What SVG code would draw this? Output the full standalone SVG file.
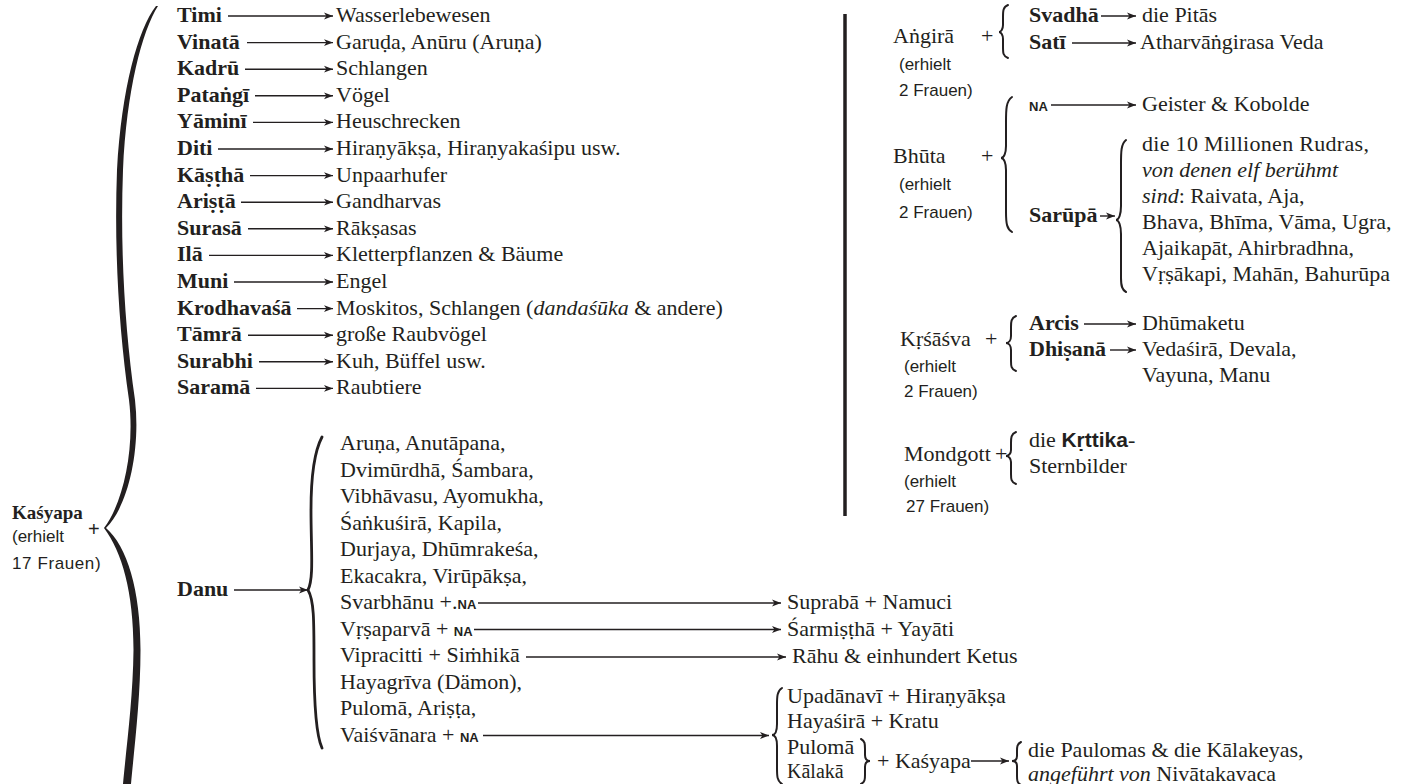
<svg xmlns="http://www.w3.org/2000/svg" width="1415" height="784" viewBox="0 0 1415 784">
<style>
text { font-family: "Liberation Serif", "Times New Roman", "DejaVu Serif", serif; font-size: 22px; fill: #231f20; }
.b { font-weight: bold; }
.i { font-style: italic; }
.s { font-family: "Liberation Sans", "DejaVu Sans", sans-serif; font-size: 17px; }
.na { font-family: "Liberation Sans", "DejaVu Sans", sans-serif; font-size: 13px; font-weight: bold; }
.kb { font-family: "Liberation Sans", "DejaVu Sans", sans-serif; font-weight: bold; font-size: 21px; }
.ar { stroke: #231f20; stroke-width: 1.4; fill: none; marker-end: url(#ah); }
.br { fill: none; stroke: #231f20; stroke-width: 2; stroke-linecap: round; }
</style>
<defs>
<marker id="ah" markerUnits="userSpaceOnUse" markerWidth="10" markerHeight="8" refX="9" refY="4" orient="auto">
<path d="M0,0.6 L9,4 L0,7.4 L2.4,4 Z" fill="#231f20"/>
</marker>
</defs>
<rect width="1415" height="784" fill="#ffffff"/>

<g id="kasyapa">
<path d="M158,6 C142,31 126.5,91 123,170 C120,250 125,330 135,400 C141,452 127,508 106,528 C127,546 140.5,590 140.5,650 C140.5,700 134,750 131,784 L123,784 C126,750 133,700 133.5,650 C133.5,592 122,552 104,528 C123,503 135,450 129,400 C119,330 114,250 117,170 C121.5,89 138,29 156,6 Z" fill="#231f20"/>
<text class="b" x="12" y="519" style="font-size:19px">Kaśyapa</text>
<text class="s" x="12" y="542">(erhielt</text>
<text class="s" x="12" y="569" style="letter-spacing:0.6px">17 Frauen)</text>
<text class="s" x="88" y="536" style="font-size:20px">+</text>
</g>

<g id="wives">
<text class="b" x="177" y="22">Timi</text>
<text class="b" x="177" y="48.6">Vinatā</text>
<text class="b" x="177" y="75.2">Kadrū</text>
<text class="b" x="177" y="101.8">Pataṅgī</text>
<text class="b" x="177" y="128.4">Yāminī</text>
<text class="b" x="177" y="155">Diti</text>
<text class="b" x="177" y="181.6">Kāṣṭhā</text>
<text class="b" x="177" y="208.2">Ariṣṭā</text>
<text class="b" x="177" y="234.8">Surasā</text>
<text class="b" x="177" y="261.4">Ilā</text>
<text class="b" x="177" y="288">Muni</text>
<text class="b" x="177" y="314.6">Krodhavaśā</text>
<text class="b" x="177" y="341.2">Tāmrā</text>
<text class="b" x="177" y="367.8">Surabhi</text>
<text class="b" x="177" y="394.4">Saramā</text>
</g>

<g id="offspring">
<text x="336" y="22">Wasserlebewesen</text>
<text x="336" y="48.6">Garuḍa, Anūru (Aruṇa)</text>
<text x="336" y="75.2">Schlangen</text>
<text x="336" y="101.8">Vögel</text>
<text x="336" y="128.4">Heuschrecken</text>
<text x="336" y="155">Hiraṇyākṣa, Hiraṇyakaśipu usw.</text>
<text x="336" y="181.6">Unpaarhufer</text>
<text x="336" y="208.2">Gandharvas</text>
<text x="336" y="234.8">Rākṣasas</text>
<text x="336" y="261.4">Kletterpflanzen &amp; Bäume</text>
<text x="336" y="288">Engel</text>
<text x="336" y="314.6">Moskitos, Schlangen (<tspan class="i">dandaśūka</tspan> &amp; andere)</text>
<text x="336" y="341.2">große Raubvögel</text>
<text x="336" y="367.8">Kuh, Büffel usw.</text>
<text x="336" y="394.4">Raubtiere</text>
</g>

<g id="danu">
<text class="b" x="177" y="596">Danu</text>
<path class="br" d="M322,437 C314,452 311,475 311,510 C311,550 314,578 308,590 C314,600 314,620 314,660 C314,705 316,735 322,748" style="stroke-width:2.8"/>
<text x="340" y="450">Aruṇa, Anutāpana,</text>
<text x="340" y="476.5">Dvimūrdhā, Śambara,</text>
<text x="340" y="503">Vibhāvasu, Ayomukha,</text>
<text x="340" y="529.5">Śaṅkuśirā, Kapila,</text>
<text x="340" y="556">Durjaya, Dhūmrakeśa,</text>
<text x="340" y="582.5">Ekacakra, Virūpākṣa,</text>
<text x="340" y="609">Svarbhānu +.<tspan class="na">NA</tspan></text>
<text x="340" y="635.5">Vṛṣaparvā + <tspan class="na">NA</tspan></text>
<text x="340" y="662">Vipracitti + Siṁhikā</text>
<text x="340" y="688.5">Hayagrīva (Dämon),</text>
<text x="340" y="715">Pulomā, Ariṣṭa,</text>
<text x="340" y="741.5">Vaiśvānara + <tspan class="na">NA</tspan></text>
</g>

<g id="danu-offspring">
<text x="787" y="609">Suprabā + Namuci</text>
<text x="787" y="635.5">Śarmiṣṭhā + Yayāti</text>
<text x="792" y="663">Rāhu &amp; einhundert Ketus</text>
<path class="br" d="M782,688 C777,691 777,697 777,705 L777,724 C777,731 775,735 772,735 C775,735 777,739 777,746 L777,768 C777,776 777,781 782,784"/>
<text x="787" y="703">Upadānavī + Hiraṇyākṣa</text>
<text x="787" y="728">Hayaśirā + Kratu</text>
<text x="787" y="754">Pulomā</text>
<text x="787" y="778" style="font-size:20px">Kālakā</text>
<path class="br" d="M861,739 C865,741 865,744 865,749 L865,755 C865,759 867,761 870,761 C867,761 865,763 865,767 L865,775 C865,779 865,782 861,784"/>
<text x="877" y="768">+ Kaśyapa</text>
<path class="br" d="M1021,742 C1017,744 1017,747 1017,751 L1017,756 C1017,759 1015,761 1012,761 C1015,761 1017,763 1017,766 L1017,776 C1017,780 1017,783 1021,785"/>
<text x="1028" y="757">die Paulomas &amp; die Kālakeyas,</text>
<text x="1028" y="781"><tspan class="i">angeführt von</tspan> Nivātakavaca</text>
</g>

<g id="right-divider">
<line x1="845" y1="14" x2="845" y2="516" stroke="#231f20" stroke-width="3.5"/>
</g>

<g id="angira">
<text x="893" y="43">Aṅgirā</text>
<text x="981" y="43">+</text>
<text class="s" x="899" y="70">(erhielt</text>
<text class="s" x="899" y="96">2 Frauen)</text>
<path class="br" d="M1008,5 C1003,7 1003,11 1003,17 L1003,25 C1003,29 1001,32 999,32 C1001,32 1003,35 1003,39 L1003,47 C1003,53 1003,56 1008,58"/>
<text class="b" x="1029" y="22">Svadhā</text>
<text x="1142" y="22">die Pitās</text>
<text class="b" x="1029" y="49">Satī</text>
<text x="1140" y="49">Atharvāṅgirasa Veda</text>
</g>

<g id="bhuta">
<text x="893" y="163">Bhūta</text>
<text x="981" y="163">+</text>
<text class="s" x="899" y="190">(erhielt</text>
<text class="s" x="899" y="218">2 Frauen)</text>
<path class="br" d="M1012,97 C1006,101 1006,110 1006,122 L1006,146 C1006,153 1004,158 1001,158 C1004,158 1006,163 1006,170 L1006,212 C1006,224 1007,229 1012,232"/>
<text class="na" x="1029" y="111">NA</text>
<text x="1142" y="111">Geister &amp; Kobolde</text>
<text class="b" x="1029" y="222">Sarūpā</text>
<path class="br" d="M1126,140 C1121,144 1121,152 1121,164 L1121,206 C1121,214 1119,220 1116,220 C1119,220 1121,226 1121,234 L1121,278 C1121,286 1122,290 1126,292"/>
<text x="1142" y="151" style="letter-spacing:0.3px">die 10 Millionen Rudras,</text>
<text class="i" x="1142" y="177">von denen elf berühmt</text>
<text x="1142" y="203"><tspan class="i">sind</tspan>: Raivata, Aja,</text>
<text x="1142" y="229">Bhava, Bhīma, Vāma, Ugra,</text>
<text x="1142" y="255">Ajaikapāt, Ahirbradhna,</text>
<text x="1142" y="281">Vṛṣākapi, Mahān, Bahurūpa</text>
</g>

<g id="krsasva">
<text x="900" y="346">Kṛśāśva</text>
<text x="985" y="346">+</text>
<text class="s" x="904" y="372">(erhielt</text>
<text class="s" x="904" y="397">2 Frauen)</text>
<path class="br" d="M1016,316 C1011,318 1011,322 1011,327 L1011,336 C1011,340 1009,343 1006,343 C1009,343 1011,346 1011,350 L1011,361 C1011,366 1011,369 1016,371"/>
<text class="b" x="1029" y="330">Arcis</text>
<text x="1142" y="330">Dhūmaketu</text>
<text class="b" x="1029" y="356">Dhiṣanā</text>
<text x="1142" y="356">Vedaśirā, Devala,</text>
<text x="1142" y="382">Vayuna, Manu</text>
</g>

<g id="mondgott">
<text x="904" y="461">Mondgott</text>
<text x="995" y="461">+</text>
<text class="s" x="904" y="487">(erhielt</text>
<text class="s" x="906" y="512">27 Frauen)</text>
<path class="br" d="M1016,432 C1011,434 1011,438 1011,443 L1011,450 C1011,453 1009,456 1006,456 C1009,456 1011,459 1011,462 L1011,474 C1011,479 1011,482 1016,484"/>
<text x="1029" y="447">die <tspan class="kb">Kṛttika</tspan>-</text>
<text x="1029" y="473">Sternbilder</text>
</g>

<g id="connectors">
<line class="ar" x1="228" y1="16" x2="333" y2="16"/>
<line class="ar" x1="247" y1="42.6" x2="333" y2="42.6"/>
<line class="ar" x1="245" y1="69.2" x2="333" y2="69.2"/>
<line class="ar" x1="255" y1="95.8" x2="333" y2="95.8"/>
<line class="ar" x1="253" y1="122.4" x2="333" y2="122.4"/>
<line class="ar" x1="218" y1="149" x2="333" y2="149"/>
<line class="ar" x1="250" y1="175.6" x2="333" y2="175.6"/>
<line class="ar" x1="241" y1="202.2" x2="333" y2="202.2"/>
<line class="ar" x1="248" y1="228.8" x2="333" y2="228.8"/>
<line class="ar" x1="209" y1="255.4" x2="333" y2="255.4"/>
<line class="ar" x1="234" y1="282" x2="333" y2="282"/>
<line class="ar" x1="297" y1="308.6" x2="333" y2="308.6"/>
<line class="ar" x1="248" y1="335.2" x2="333" y2="335.2"/>
<line class="ar" x1="259" y1="361.8" x2="333" y2="361.8"/>
<line class="ar" x1="256" y1="388.4" x2="333" y2="388.4"/>
<line class="ar" x1="234" y1="590" x2="308" y2="590"/>
<line class="ar" x1="478" y1="603" x2="781" y2="603"/>
<line class="ar" x1="474" y1="629.5" x2="781" y2="629.5"/>
<line class="ar" x1="526" y1="657" x2="786" y2="657"/>
<line class="ar" x1="483" y1="735.5" x2="769" y2="735.5"/>
<line class="ar" x1="971" y1="761" x2="1009" y2="761"/>
<line class="ar" x1="1101" y1="16" x2="1136" y2="16"/>
<line class="ar" x1="1072" y1="43" x2="1136" y2="43"/>
<line class="ar" x1="1051" y1="105" x2="1136" y2="105"/>
<line class="ar" x1="1100" y1="216" x2="1115" y2="216"/>
<line class="ar" x1="1084" y1="324" x2="1136" y2="324"/>
<line class="ar" x1="1110" y1="350" x2="1136" y2="350"/>
</g>
</svg>
